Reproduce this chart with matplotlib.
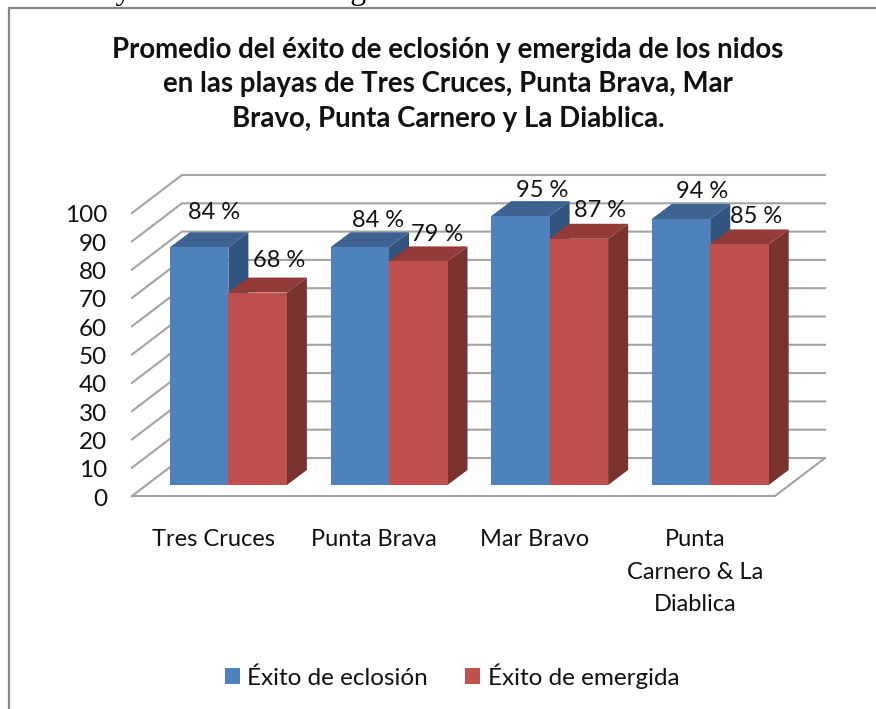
import matplotlib
matplotlib.use("Agg")
import matplotlib.pyplot as plt
from matplotlib.patches import Polygon, Patch
from matplotlib.lines import Line2D

plt.rcParams['font.family'] = ['Lato', 'DejaVu Sans']

categories = ['Tres Cruces', 'Punta Brava', 'Mar Bravo', 'Punta\nCarnero & La\nDiablica']
eclosion = [84, 84, 95, 94]
emergida = [68, 79, 87, 85]
y_ticks = [0, 10, 20, 30, 40, 50, 60, 70, 80, 90, 100]
title = ('Promedio del éxito de eclosión y emergida de los nidos\n'
         'en las playas de Tres Cruces, Punta Brava, Mar\n'
         'Bravo, Punta Carnero y La Diablica.')
label_offsets_e = [(15, 35), (18, 26.6), (22, 26), (21, 27)]
label_offsets_m = [(21.5, 31.6), (19, 27), (21.5, 28), (17, 27.5)]

W, H = 876, 709
fig = plt.figure(figsize=(W / 100, H / 100), dpi=100)
ax = fig.add_axes([0, 0, 1, 1])

# scale: category spacing and value scale in pixels
PX_X, PX_Y = 160.6, 2.83
X0, Y0 = 228.4, 485.0
ax.set_xlim((0 - X0) / PX_X, (W - X0) / PX_X)
ax.set_ylim((Y0 - H) / PX_Y, Y0 / PX_Y)
ax.axis('off')

def dx(p): return p / PX_X
def dy(p): return p / PX_Y

bw = 58.5 / PX_X
depth_x, depth_y = dx(20), dy(15)

# walls: front plane and back plane offsets from the bar plane
front_x0, front_x1 = (132 - X0) / PX_X, (775 - X0) / PX_X
back_x0, back_x1 = (182 - X0) / PX_X, (825 - X0) / PX_X
front_dy, back_dy = dy(-11), dy(27)

grid_c = '#a3a3a3'
for t in y_ticks:
    ax.plot([front_x0, back_x0, back_x1], [t + front_dy, t + back_dy, t + back_dy],
            color=grid_c, lw=1.5, zorder=1, solid_joinstyle='miter')
    ax.text(front_x0 - dx(25), t + front_dy - dy(3), str(t), ha='right', va='center',
            fontsize=17.5, color='#111111', zorder=6)
ax.plot([front_x0, front_x1, back_x1], [front_dy, front_dy, back_dy], color=grid_c, lw=1.5, zorder=1)

def bar3d(xs, vals, front, top, side, z):
    for x, v in zip(xs, vals):
        ax.bar(x, v, width=bw, align='edge', color=front, zorder=z + 0.2, linewidth=0)
        ax.add_patch(Polygon([(x + bw, 0), (x + bw + depth_x, depth_y),
                              (x + bw + depth_x, v + depth_y), (x + bw, v)],
                             closed=True, fc=side, ec='none', zorder=z))
        ax.add_patch(Polygon([(x, v), (x + depth_x, v + depth_y),
                              (x + bw + depth_x, v + depth_y), (x + bw, v)],
                             closed=True, fc=top, ec='none', zorder=z))

pos = list(range(len(categories)))
bar3d([p - bw for p in pos], eclosion, '#4F81BD', '#3E6390', '#32557F', 2)
bar3d(pos, emergida, '#C0504D', '#923B39', '#7A3230', 3)

for p, v, (ox, oy) in zip(pos, eclosion, label_offsets_e):
    ax.text(p - bw / 2 + dx(ox), v + dy(oy), f'{v} %', ha='center', va='center',
            fontsize=17, color='#111111', zorder=7)
for p, v, (ox, oy) in zip(pos, emergida, label_offsets_m):
    ax.text(p + bw / 2 + dx(ox), v + dy(oy), f'{v} %', ha='center', va='center',
            fontsize=17, color='#111111', zorder=7)

for p, c in zip(pos, categories):
    ax.text(p - dx(15), dy(485 - 529), c, ha='center', va='top', fontsize=17,
            color='#111111', linespacing=1.68, zorder=6)

fig.text(448 / W, 1 - 37 / H, title, ha='center', va='top', fontsize=19.9,
         fontweight='bold', color='#111111', linespacing=1.40)

handles = [Patch(fc='#4F81BD', ec='none', label='Éxito de eclosión'),
           Patch(fc='#C0504D', ec='none', label='Éxito de emergida')]
leg = fig.legend(handles=handles, loc='center', bbox_to_anchor=(452 / W, 1 - 676 / H),
                 ncol=2, frameon=False, fontsize=17.5, handlelength=0.62, handleheight=0.62,
                 handletextpad=0.3, columnspacing=1.55, borderpad=0, labelcolor='#111111')

fig.add_artist(Line2D([8.5 / W, 8.5 / W, 1], [0, 1 - 8 / H, 1 - 8 / H], color='#868686', lw=1.6))

# body text of the page, cut off by the top edge
fig.text(4 / W, 1 + 0.5 / H, 'de 80 % y un nivel de emergida del 85 %.', ha='left', va='baseline',
         fontsize=22.8, family='Liberation Serif', color='black')

fig.savefig('out.png', dpi=100)
